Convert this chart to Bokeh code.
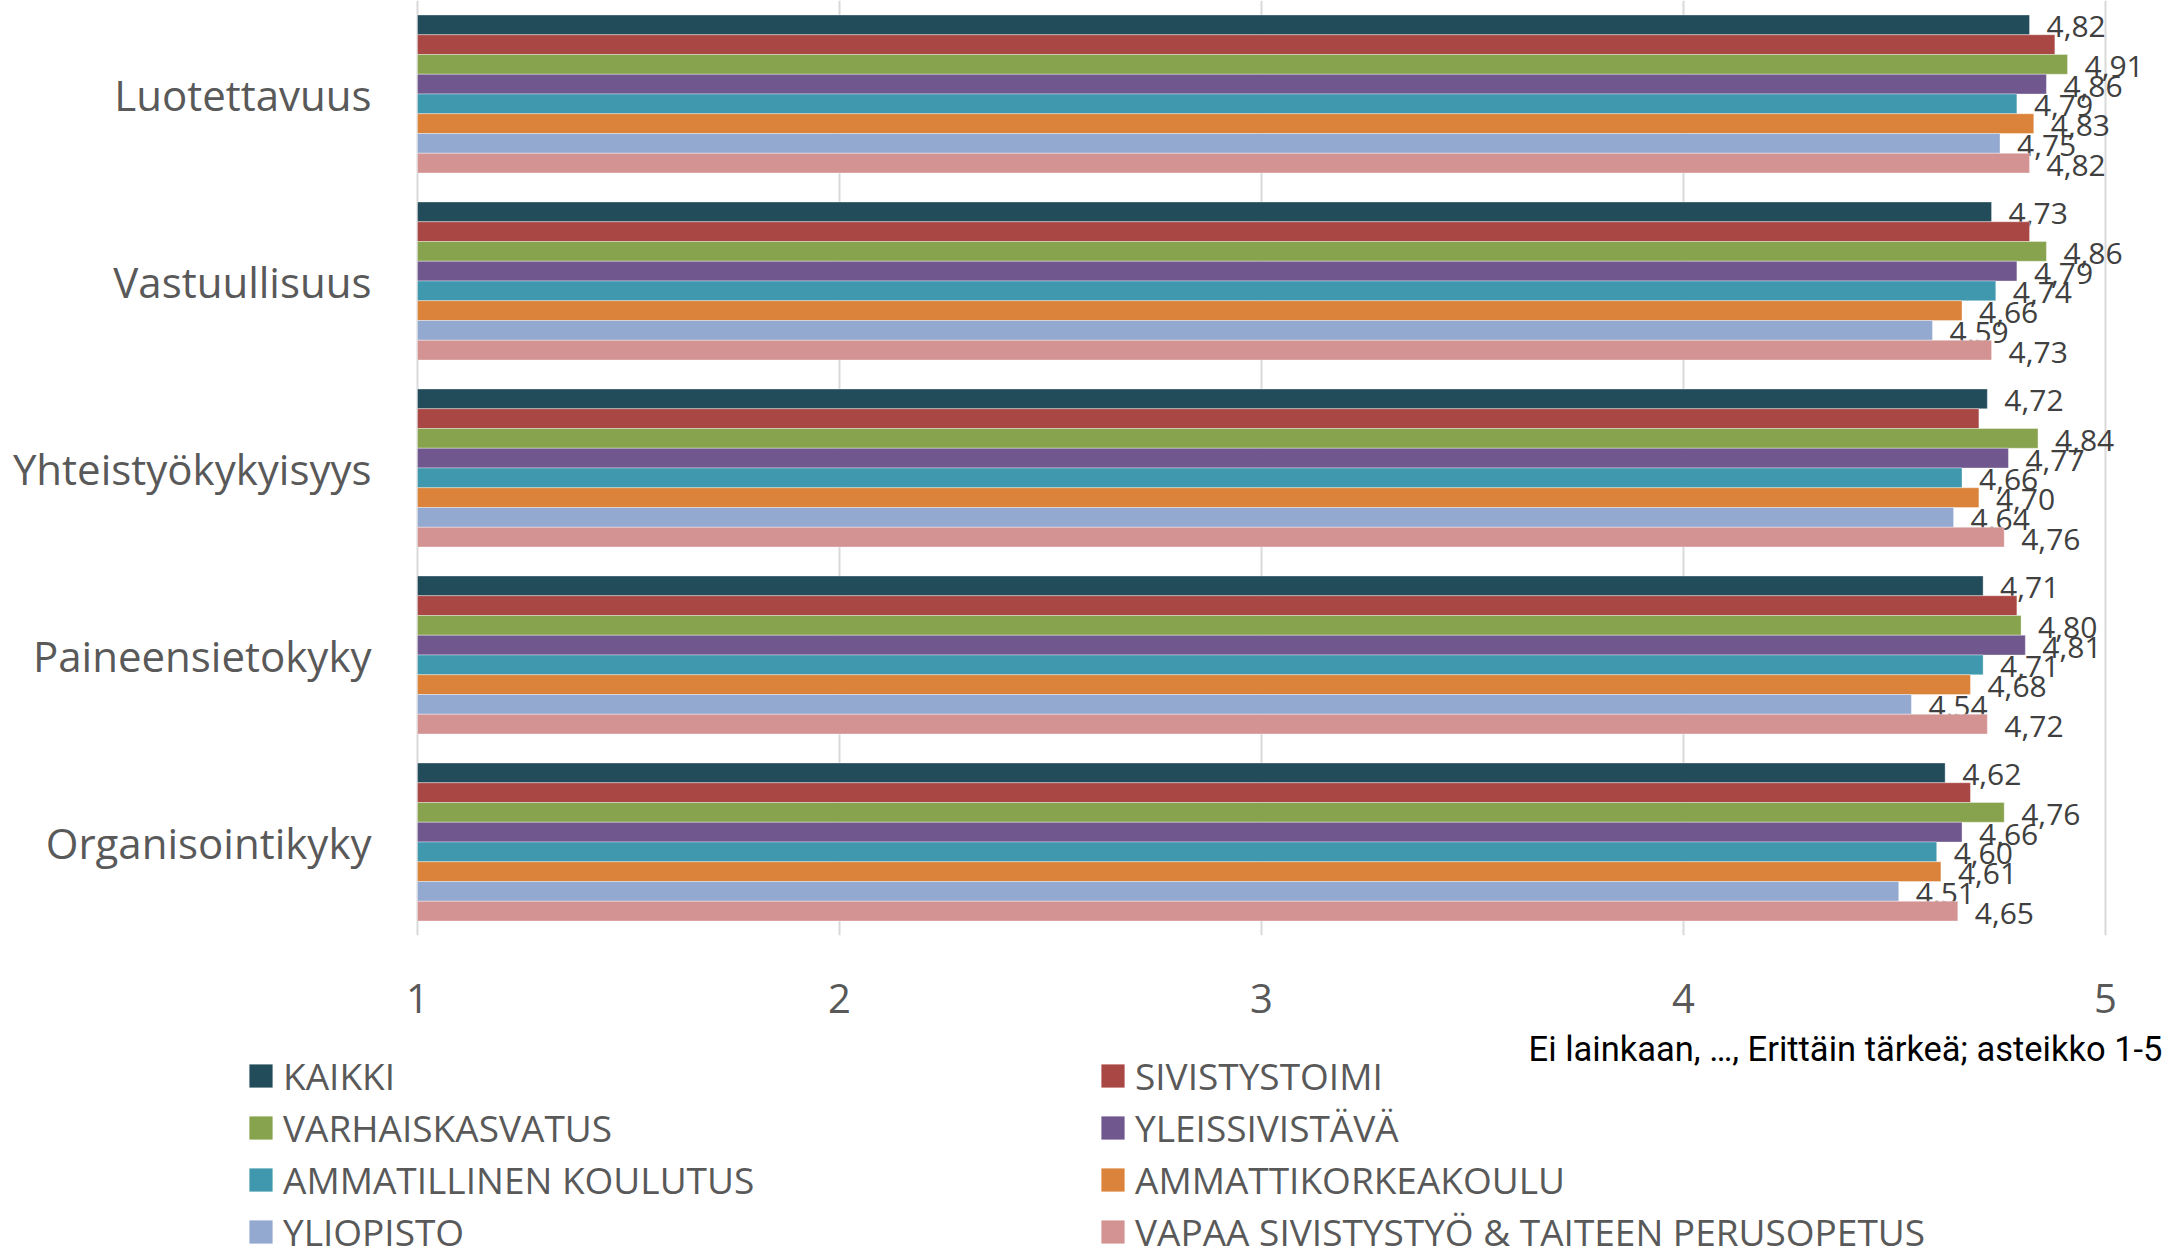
from bokeh.plotting import figure
from bokeh.layouts import column
from bokeh.models import FactorRange, Range1d, ColumnDataSource, Legend, LegendItem, Label, FixedTicker
from bokeh.transform import dodge
from bokeh.core.properties import value
from bokeh.embed import file_html
from bokeh.resources import INLINE

categories = ["Luotettavuus", "Vastuullisuus", "Yhteistyökykyisyys", "Paineensietokyky", "Organisointikyky"]
series = ["KAIKKI", "SIVISTYSTOIMI", "VARHAISKASVATUS", "YLEISSIVISTÄVÄ",
          "AMMATILLINEN KOULUTUS", "AMMATTIKORKEAKOULU", "YLIOPISTO",
          "VAPAA SIVISTYSTYÖ & TAITEEN PERUSOPETUS"]
kaikki = [4.82, 4.73, 4.72, 4.71, 4.62]
sivistystoimi = [4.88, 4.82, 4.70, 4.79, 4.68]
varhaiskasvatus = [4.91, 4.86, 4.84, 4.80, 4.76]
yleissivistava = [4.86, 4.79, 4.77, 4.81, 4.66]
ammatillinen = [4.79, 4.74, 4.66, 4.71, 4.60]
ammattikorkeakoulu = [4.83, 4.66, 4.70, 4.68, 4.61]
yliopisto = [4.75, 4.59, 4.64, 4.54, 4.51]
vapaa = [4.82, 4.73, 4.76, 4.72, 4.65]
values_all = [kaikki, sivistystoimi, varhaiskasvatus, yleissivistava,
              ammatillinen, ammattikorkeakoulu, yliopisto, vapaa]
labelled = [True, False, True, True, True, True, True, True]
colors = ["#234C5B", "#A94744", "#88A34E", "#70578E", "#4098AE", "#DC833B", "#94A9CF", "#D49393"]
x_ticks = [1, 2, 3, 4, 5]
axis_note = "Ei lainkaan, …, Erittäin tärkeä; asteikko 1-5"

FONT = "Open Sans"
W = 2164
H1, H2 = 1030, 227

# x=1 sits at px 417 and x=5 at px 2105; the frame spans the full width
unit = (2105 - 417) / (x_ticks[-1] - x_ticks[0])
x_start = x_ticks[0] - 417 / unit
x_end = x_ticks[-1] + (W - 2105) / unit

p = figure(width=W, height=H1,
           y_range=FactorRange(*reversed(categories)),
           x_range=Range1d(x_start, x_end),
           y_axis_location=None,
           output_backend="svg", toolbar_location=None,
           min_border_left=0, min_border_right=0,
           min_border_top=0, min_border_bottom=H1 - 935)
p.outline_line_color = None
p.ygrid.grid_line_color = None
p.xgrid.grid_line_color = "#d9d9d9"
p.xgrid.grid_line_width = 2

p.xaxis.ticker = FixedTicker(ticks=x_ticks)
p.xaxis.axis_line_color = None
p.xaxis.major_tick_line_color = None
p.xaxis.major_tick_out = 0
p.xaxis.major_tick_in = 0
p.xaxis.minor_tick_line_color = None
p.xaxis.major_label_text_font = FONT
p.xaxis.major_label_text_font_size = "40px"
p.xaxis.major_label_text_color = "#595959"
p.xaxis.major_label_standoff = 48

# category labels
cat_src = ColumnDataSource(dict(cat=categories))
p.text(x=x_ticks[0], y="cat", text="cat", source=cat_src, x_offset=-46,
       text_align="right", text_baseline="middle",
       text_font=value(FONT), text_font_size="42px", text_color="#595959")

group = 0.845
h = group / len(series)

sources = []
for i, (name, vals, col, lab) in enumerate(zip(series, values_all, colors, labelled)):
    src = ColumnDataSource(dict(cat=categories, val=vals,
                                lab=[f"{v:.2f}".replace(".", ",") for v in vals]))
    sources.append(src)
    off = (len(series) / 2 - 0.5 - i) * h
    p.hbar(y=dodge("cat", off, range=p.y_range), left=x_ticks[0], right="val",
           height=h, source=src, fill_color=col,
           line_color="white", line_alpha=0.35, line_width=1)
    if lab:
        p.text(x="val", y=dodge("cat", off, range=p.y_range), text="lab", source=src,
               x_offset=17, y_offset=2, text_baseline="middle",
               text_font=value(FONT), text_font_size="30px", text_color="#404040")

# legend + note panel (frame spans the whole panel)
p2 = figure(width=W, height=H2, x_range=Range1d(0, 1), y_range=Range1d(0, 1),
            output_backend="svg", toolbar_location=None,
            x_axis_location=None, y_axis_location=None,
            min_border_left=0, min_border_right=0, min_border_top=0, min_border_bottom=0)
p2.outline_line_color = None
p2.grid.visible = False

items = []
for name, col, src in zip(series, colors, sources):
    # zero-width bars outside the panel's ranges: only their legend swatch shows
    r = p2.hbar(y="val", left="val", right="val", height=0.01, source=src,
                fill_color=col, line_color=None)
    items.append(LegendItem(label=name, renderers=[r]))

legend = Legend(items=items, location=(246, 0), orientation="horizontal", ncols=2,
                glyph_width=29, glyph_height=29, label_standoff=8, label_width=814,
                spacing=1, padding=0, margin=0, border_line_color=None,
                background_fill_alpha=0,
                label_text_font=FONT, label_text_font_size="37px",
                label_text_color="#595959")
p2.add_layout(legend)

note = Label(x=2162, y=H2 - 18, x_units="screen", y_units="screen",
             text=axis_note, text_align="right", text_baseline="middle",
             text_font="Roboto", text_font_size="34.5px", text_color="#000000")
p2.add_layout(note)

open("out.html", "w").write(file_html(column(p, p2, spacing=0), INLINE))
